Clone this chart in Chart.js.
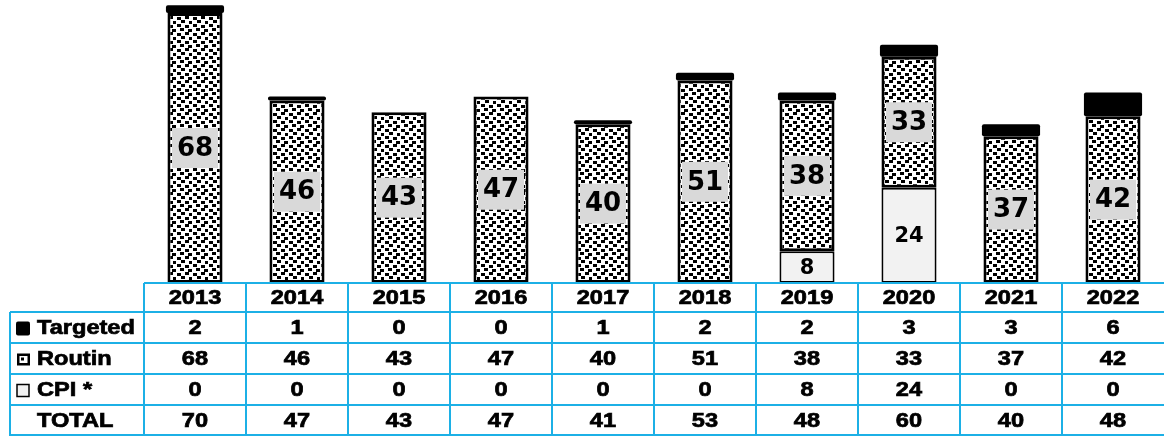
<!DOCTYPE html>
<html>
<head>
<meta charset="utf-8">
<script src="https://cdn.jsdelivr.net/npm/chart.js@4"></script>
<style>
  html, body { margin: 0; padding: 0; background: #fff; }
  #chart { display: block; }
</style>
</head>
<body>
<canvas id="chart" width="1164" height="436"></canvas>
<script>
// yearly counts per inspection type
const years = ['2013', '2014', '2015', '2016', '2017', '2018', '2019', '2020', '2021', '2022'];
const targeted = [2, 1, 0, 0, 1, 2, 2, 3, 3, 6];
const routin = [68, 46, 43, 47, 40, 51, 38, 33, 37, 42];
const cpi = [0, 0, 0, 0, 0, 0, 8, 24, 0, 0];
const totals = years.map((_, i) => targeted[i] + routin[i] + cpi[i]);

const tableRows = [
    { label: 'Targeted', key: 'solid', values: targeted },
    { label: 'Routin', key: 'dots', values: routin },
    { label: 'CPI *', key: 'light', values: cpi },
    { label: 'TOTAL', key: null, values: totals }
];

// speckled fill used for the routine bars
function makeDots() {
    const c = document.createElement('canvas');
    c.width = 16;
    c.height = 16;
    const g = c.getContext('2d');
    g.fillStyle = '#fff';
    g.fillRect(0, 0, 16, 16);
    g.fillStyle = '#000';
    [[1, 1], [9, 0], [5, 4], [13, 5], [1, 8], [9, 9], [4, 12], [12, 13]]
        .forEach(([x, y]) => g.fillRect(x, y, 4, 3));
    return g.createPattern(c, 'repeat');
}
const dots = makeDots();

const LINE = '#1cb0e6';
const tableFont = 'bold 20px "Liberation Sans", Arial, sans-serif';

// text stretched a little sideways, like the table font
function wideText(ctx, text, x, y, align) {
    ctx.save();
    ctx.translate(x, y);
    ctx.scale(1.18, 1);
    ctx.textAlign = align;
    ctx.lineWidth = 0.7;
    ctx.strokeStyle = '#000';
    ctx.strokeText(text, 0, 0);
    ctx.fillText(text, 0, 0);
    ctx.restore();
}

const barLabels = {
    id: 'barLabels',
    afterDatasetsDraw(chart) {
        const ctx = chart.ctx;
        ctx.save();
        ctx.textAlign = 'center';
        ctx.textBaseline = 'middle';
        chart.getDatasetMeta(1).data.forEach((bar, i) => {
            if (!routin[i]) return;
            const { x, y, base } = bar.getProps(['x', 'y', 'base'], true);
            const cy = (y + base) / 2;
            ctx.fillStyle = '#d9d9d9';
            ctx.fillRect(x - 23, cy - 20, 46, 40);
            ctx.fillStyle = '#000';
            ctx.font = 'bold 26px "DejaVu Sans", sans-serif';
            ctx.fillText(String(routin[i]), x, cy + 1);
        });
        chart.getDatasetMeta(0).data.forEach((bar, i) => {
            if (!cpi[i]) return;
            const { x, y, base } = bar.getProps(['x', 'y', 'base'], true);
            ctx.fillStyle = '#000';
            ctx.font = 'bold 21px "DejaVu Sans", sans-serif';
            ctx.fillText(String(cpi[i]), x, (y + base) / 2 + 1);
        });
        ctx.restore();
    }
};

const dataTable = {
    id: 'dataTable',
    afterDraw(chart) {
        const ctx = chart.ctx;
        const xs = chart.scales.x;
        const colW = xs.getPixelForValue(1) - xs.getPixelForValue(0);
        const left = 10, firstCol = xs.left, right = xs.right;
        const rowLines = [283, 312, 343, 374, 405, 435];

        ctx.save();
        ctx.strokeStyle = LINE;
        ctx.lineWidth = 2;
        ctx.beginPath();
        ctx.moveTo(firstCol, rowLines[0]);
        ctx.lineTo(right, rowLines[0]);
        for (let r = 1; r < rowLines.length; r++) {
            ctx.moveTo(left, rowLines[r]);
            ctx.lineTo(right, rowLines[r]);
        }
        ctx.moveTo(left, rowLines[1]);
        ctx.lineTo(left, 436);
        for (let k = 0; k < years.length; k++) {
            const x = firstCol + k * colW;
            ctx.moveTo(x, rowLines[0]);
            ctx.lineTo(x, 436);
        }
        ctx.stroke();

        ctx.fillStyle = '#000';
        ctx.font = tableFont;
        ctx.textBaseline = 'middle';
        years.forEach((yr, i) => {
            wideText(ctx, yr, xs.getPixelForValue(i), (rowLines[0] + rowLines[1]) / 2 + 1, 'center');
        });

        tableRows.forEach((row, r) => {
            const cy = (rowLines[r + 1] + rowLines[r + 2]) / 2 + 1;
            row.values.forEach((v, i) => {
                wideText(ctx, String(v), xs.getPixelForValue(i), cy, 'center');
            });
            wideText(ctx, row.label, 37, cy, 'left');

            // legend keys in the first column
            if (row.key === 'solid') {
                ctx.fillStyle = '#000';
                ctx.beginPath();
                ctx.roundRect(16, cy - 7, 14, 14, 2);
                ctx.fill();
            } else if (row.key === 'dots') {
                ctx.fillStyle = '#000';
                ctx.fillRect(17, cy - 6, 13, 12);
                ctx.fillStyle = '#fff';
                ctx.fillRect(19.5, cy - 3.5, 8, 7);
                ctx.fillStyle = '#000';
                ctx.fillRect(21, cy - 2, 3, 3);
            } else if (row.key === 'light') {
                ctx.fillStyle = '#f2f2f2';
                ctx.fillRect(17, cy - 6, 12, 12);
                ctx.strokeStyle = '#000';
                ctx.lineWidth = 1.5;
                ctx.strokeRect(17, cy - 6, 12, 12);
            }
            ctx.fillStyle = '#000';
        });
        ctx.restore();
    }
};

new Chart(document.getElementById('chart'), {
    type: 'bar',
    data: {
        labels: years,
        datasets: [
            {
                label: 'CPI *',
                data: cpi,
                backgroundColor: '#f2f2f2',
                borderColor: '#000',
                borderWidth: 2,
                borderSkipped: false,
                barPercentage: 0.54
            },
            {
                label: 'Routin',
                data: routin,
                backgroundColor: dots,
                borderColor: '#000',
                borderWidth: 3,
                borderSkipped: false,
                barPercentage: 0.54
            },
            {
                label: 'Targeted',
                data: targeted,
                backgroundColor: '#000',
                borderColor: '#000',
                borderWidth: 0,
                borderRadius: 2,
                borderSkipped: false,
                barPercentage: 0.57
            }
        ]
    },
    options: {
        responsive: false,
        animation: false,
        devicePixelRatio: 1,
        layout: { padding: { left: 144, right: 0, top: 0, bottom: 153 } },
        scales: {
            x: { stacked: true, display: false },
            y: { stacked: true, display: false, min: 0, max: 71.3 }
        },
        datasets: { bar: { categoryPercentage: 1 } },
        plugins: {
            legend: { display: false },
            tooltip: { enabled: false }
        }
    },
    plugins: [barLabels, dataTable]
});
</script>
</body>
</html>
